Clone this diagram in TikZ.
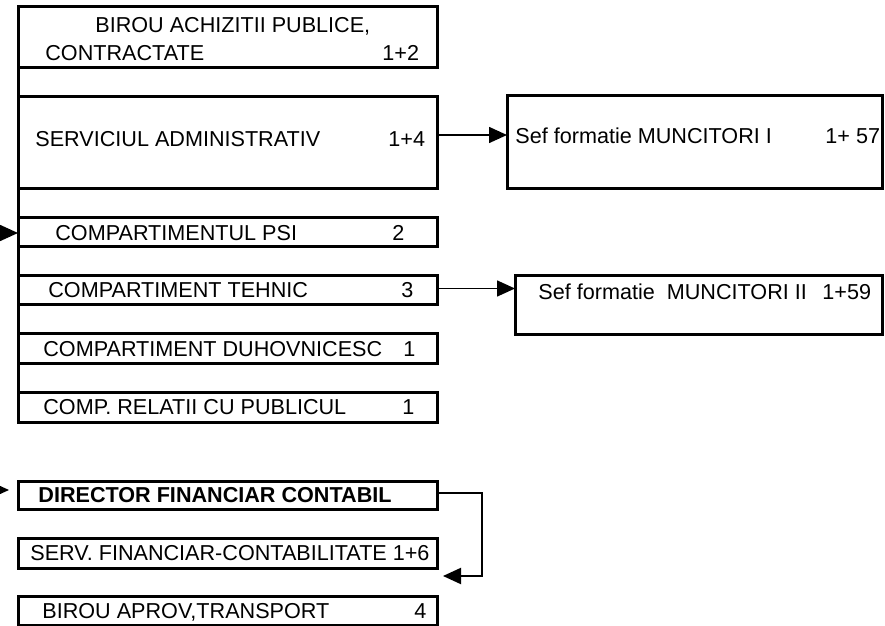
\documentclass[tikz,border=0pt]{standalone}
\usepackage{fontspec}
\setmainfont{Liberation Sans}
\usetikzlibrary{arrows.meta}

\begin{document}
\begin{tikzpicture}[x=0.5pt,y=-0.5pt,
	box/.style={draw,line width=1.5pt,inner sep=0,outer sep=0,anchor=north west,minimum width=209.5pt},
	txt/.style={anchor=west,inner sep=0,text height=7.7pt,text depth=0pt,font=\fontsize{10.8}{13}\selectfont},
	arr/.style={line width=0.8pt,-{Triangle[length=9pt,width=8pt]}}]
\useasboundingbox (0,0) rectangle (885,626);
% compartimente
\node[box,minimum height=30.5pt] (achiz) at (18,7) {};
\node[box,minimum height=46pt] (admin) at (18,97) {};
\node[box,minimum height=14.5pt] (psi) at (18,218) {};
\node[box,minimum height=14.5pt] (tehnic) at (18,276) {};
\node[box,minimum height=14.5pt] (duhov) at (18,334) {};
\node[box,minimum height=15pt] (relatii) at (18,392) {};
\node[box,minimum width=187.5pt,minimum height=46.5pt] (munc1) at (507,96) {};
\node[box,minimum width=183.5pt,minimum height=29.5pt] (munc2) at (515,276) {};
\node[box,minimum height=14pt] (dir) at (18,481) {};
\node[box,minimum height=15pt] (fin) at (18,538) {};
\node[box,minimum height=14.5pt] (aprov) at (18,596) {};
\draw[line width=1.5pt] (achiz.north west) -- (relatii.south west);
% texte
\node[txt] (achiz-t1) at (95,25) {BIROU ACHIZITII PUBLICE,};
\node[txt] (achiz-t2) at (45,53) {CONTRACTATE};
\node[txt] (achiz-n) at (382,53) {1+2};
\node[txt] (admin-t) at (35,139) {SERVICIUL ADMINISTRATIV};
\node[txt] (admin-n) at (388,139) {1+4};
\node[txt] (munc1-t) at (515,136) {Sef formatie MUNCITORI I};
\node[txt] (munc1-n) at (825,136) {1+ 57};
\node[txt] (psi-t) at (55,233) {COMPARTIMENTUL PSI};
\node[txt] (psi-n) at (392,233) {2};
\node[txt] (tehnic-t) at (48,290) {COMPARTIMENT TEHNIC};
\node[txt] (tehnic-n) at (401,290) {3};
\node[txt] (munc2-t) at (538,292) {Sef formatie\ \ MUNCITORI II};
\node[txt] (munc2-n) at (822,292) {1+59};
\node[txt] (duhov-t) at (43,349) {COMPARTIMENT DUHOVNICESC};
\node[txt] (duhov-n) at (403,349) {1};
\node[txt] (relatii-t) at (43,407) {COMP. RELATII CU PUBLICUL};
\node[txt] (relatii-n) at (402,407) {1};
\node[txt,anchor=center,font=\fontsize{10.8}{13}\selectfont\bfseries] (dir-t) at (215,495) {DIRECTOR FINANCIAR CONTABIL};
\node[txt] (fin-t) at (30,553) {SERV. FINANCIAR-CONTABILITATE 1+6};
\node[txt] (aprov-t) at (42,611) {BIROU APROV,TRANSPORT};
\node[txt] (aprov-n) at (414,611) {4};
% legaturi
\coordinate (psi-in) at (0,233);
\coordinate (dir-in) at (0,490);
\draw[arr] (psi-in) -- (psi-in -| psi.west);
\draw[arr] ([yshift=4pt]admin.east) -- ([yshift=4pt]admin.east -| munc1.west);
\draw[arr] ([yshift=1pt]tehnic.east) -- ([yshift=1pt]tehnic.east -| munc2.west);
\draw[arr,shorten >=4.5pt] (dir-in) -- (dir-in -| dir.west);
\draw[arr,line width=1pt] ([yshift=1pt]dir.east) -| ([xshift=22.5pt,yshift=-4pt]fin.south east)
	-- ([xshift=3pt,yshift=-4pt]fin.south east);
\end{tikzpicture}
\end{document}
